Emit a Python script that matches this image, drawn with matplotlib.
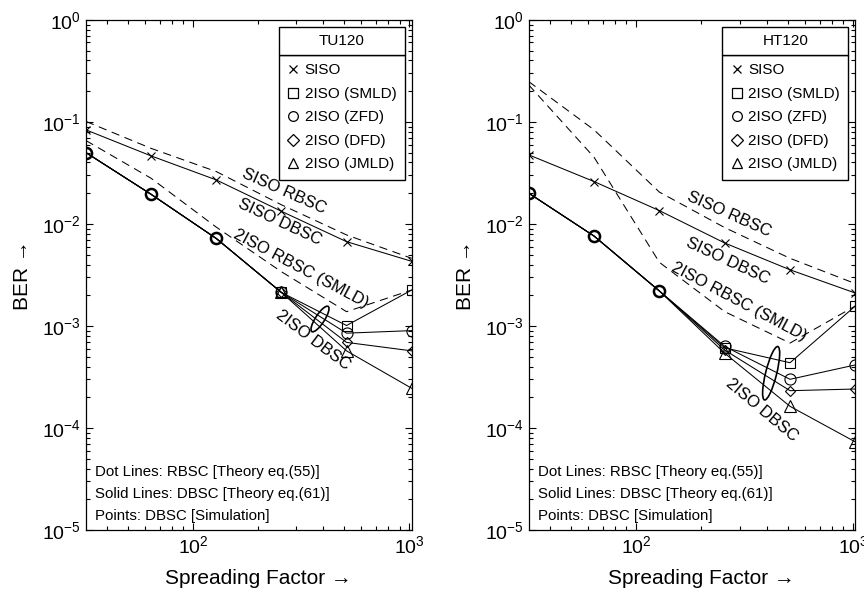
import matplotlib
matplotlib.use("Agg")
import matplotlib.pyplot as plt
from matplotlib.lines import Line2D
from matplotlib.patches import Ellipse, Rectangle
from matplotlib import transforms

plt.rcParams['font.family'] = ['Liberation Sans', 'DejaVu Sans']
plt.rcParams['lines.scale_dashes'] = False

sf = [32, 64, 128, 256, 512, 1024]

# TU120 channel
tu_siso_rbsc = [0.101, 0.055, 0.0326, 0.0154, 0.0078, 0.0046]
tu_siso = [0.0835, 0.0464, 0.027, 0.0133, 0.0067, 0.0043]
tu_smld_rbsc = [0.0656, 0.028, 0.0093, 0.0034, 0.00138, 0.00225]
tu_smld = [0.05, 0.0195, 0.0072, 0.00213, 0.00101, 0.00225]
tu_zfd = [0.05, 0.0195, 0.0072, 0.00213, 0.00085, 0.0009]
tu_dfd = [0.05, 0.0195, 0.0072, 0.00213, 0.00069, 0.00057]
tu_jmld = [0.05, 0.0195, 0.0072, 0.00213, 0.00057, 0.000245]

# HT120 channel
ht_siso_rbsc = [0.248, 0.0835, 0.0205, 0.0092, 0.0046, 0.0026]
ht_siso = [0.0475, 0.026, 0.0135, 0.0065, 0.00355, 0.0021]
ht_smld_rbsc = [0.23, 0.045, 0.0042, 0.00138, 0.00068, 0.00157]
ht_smld = [0.02, 0.0076, 0.0022, 0.00061, 0.000436, 0.00157]
ht_zfd = [0.02, 0.0076, 0.0022, 0.00063, 0.0003, 0.000415]
ht_dfd = [0.02, 0.0076, 0.0022, 0.00058, 0.000232, 0.000241]
ht_jmld = [0.02, 0.0076, 0.0022, 0.00054, 0.000163, 7.3e-5]

legend_labels = ['SISO', '2ISO (SMLD)', '2ISO (ZFD)', '2ISO (DFD)', '2ISO (JMLD)']
legend_markers = ['x', 's', 'o', 'D', '^']
curve_labels = ['SISO RBSC', 'SISO DBSC', '2ISO RBSC (SMLD)', '2ISO DBSC']
notes = ['Dot Lines: RBSC [Theory eq.(55)]',
         'Solid Lines: DBSC [Theory eq.(61)]',
         'Points: DBSC [Simulation]']

LW = 0.75
DASH = (6, 4)


def draw_panel(ax, siso_rbsc, siso, smld_rbsc, smld, zfd, dfd, jmld,
               label_pos, label_rot, ell):
    ax.plot(sf, siso_rbsc, color='black', lw=LW, dashes=DASH)
    ax.plot(sf, smld_rbsc, color='black', lw=LW, dashes=DASH)
    ax.plot(sf, siso, color='black', lw=LW, marker='x', ms=6, mew=0.8)
    ax.plot(sf, smld, color='black', lw=LW, marker='s', ms=6.5, mfc='none', mew=0.8,
            markevery=[3, 4, 5])
    ax.plot(sf, dfd, color='black', lw=LW, marker='D', ms=5.5, mfc='none', mew=0.8,
            markevery=[3, 4, 5])
    ax.plot(sf, jmld, color='black', lw=LW, marker='^', ms=8, mfc='none', mew=0.8,
            markevery=[3, 4, 5])
    ax.plot(sf, zfd, color='black', lw=LW, marker='o', ms=8, mfc='none', mew=0.8,
            markevery=[3, 4, 5])
    # overlapping simulation points at small SF look like a bold circle
    ax.plot(sf[:3], zfd[:3], ls='none', marker='o', ms=8, mfc='none', mec='black', mew=1.8)

    ax.set_xscale('log')
    ax.set_yscale('log')
    ax.set_xlim(32, 1024)
    ax.set_ylim(1e-5, 1)
    ax.tick_params(which='both', direction='in', top=True, right=True,
                   labelsize=14, width=0.8)
    ax.tick_params(which='major', length=5)
    ax.tick_params(which='minor', length=3)
    for s in ax.spines.values():
        s.set_linewidth(0.9)

    ax.set_xlabel('Spreading Factor \u2192', fontsize=15)
    ax.set_ylabel('BER \u2192', fontsize=15)
    ax.xaxis.set_label_coords(0.53, -0.077)
    ax.yaxis.set_label_coords(-0.165, 0.5)

    for txt, pos, rot in zip(curve_labels, label_pos, label_rot):
        ax.text(pos[0], pos[1], txt, fontsize=12, rotation=rot,
                ha='center', va='center', rotation_mode='anchor')

    for i, n in enumerate(notes):
        ax.text(0.027, 0.114 - i * 0.0435, n, transform=ax.transAxes,
                fontsize=10.8, va='center', ha='left')

    ex, ey, ew, eh, ea = ell
    trans = ax.figure.dpi_scale_trans + transforms.ScaledTranslation(ex, ey, ax.transData)
    ax.add_patch(Ellipse((0, 0), ew, eh, angle=ea, fill=False, ec='black',
                         lw=1.2, transform=trans))

    handles = [Line2D([], [], ls='none', marker=m, color='black', mfc='none',
                      ms=7, mew=0.9) for m in legend_markers]
    handles[0].set_markersize(6)
    handles[3].set_markersize(6)
    leg = ax.legend(handles, legend_labels, loc='upper right',
                    bbox_to_anchor=(0.9785, 0.931), borderaxespad=0,
                    fontsize=11, fancybox=False,
                    edgecolor='black', framealpha=1, handlelength=0.8,
                    handletextpad=0.35, labelspacing=0.62, borderpad=0.55)
    leg.get_frame().set_linewidth(1.0)
    return leg


fig = plt.figure(figsize=(8.64, 5.96), dpi=100)
ax1 = fig.add_axes([0.0995, 0.1107, 0.377, 0.856])
ax2 = fig.add_axes([0.612, 0.1107, 0.378, 0.856])

leg1 = draw_panel(ax1, tu_siso_rbsc, tu_siso, tu_smld_rbsc, tu_smld,
                  tu_zfd, tu_dfd, tu_jmld,
                  [(262, 0.0211), (252, 0.01035), (315, 0.00362), (358, 7.3e-4)],
                  [-24, -25, -28, -37],
                  (386, 1.17e-3, 0.09, 0.30, -33))
leg2 = draw_panel(ax2, ht_siso_rbsc, ht_siso, ht_smld_rbsc, ht_smld,
                  ht_zfd, ht_dfd, ht_jmld,
                  [(268, 0.01253), (265, 0.00434), (298, 0.00173), (380, 1.5e-4)],
                  [-24, -25, -28, -40],
                  (419, 3.44e-4, 0.11, 0.55, -14))

# boxed header above each legend (channel name)
fig.canvas.draw()
for ax, leg, name in ((ax1, leg1, 'TU120'), (ax2, leg2, 'HT120')):
    fr = leg.get_frame().get_window_extent()
    inv = ax.transAxes.inverted()
    (x0, y0), (x1, y1) = inv.transform([(fr.x0, fr.y1), (fr.x1, fr.y1)])
    head = 28 / ax.bbox.height
    ax.add_patch(Rectangle((x0, y0), x1 - x0, head, transform=ax.transAxes,
                           fill=True, fc='white', ec='black', lw=1.0, zorder=6))
    ax.text((x0 + x1) / 2, y0 + head / 2, name, transform=ax.transAxes,
            ha='center', va='center', fontsize=11, zorder=7)

fig.savefig('out.png', dpi=100)
